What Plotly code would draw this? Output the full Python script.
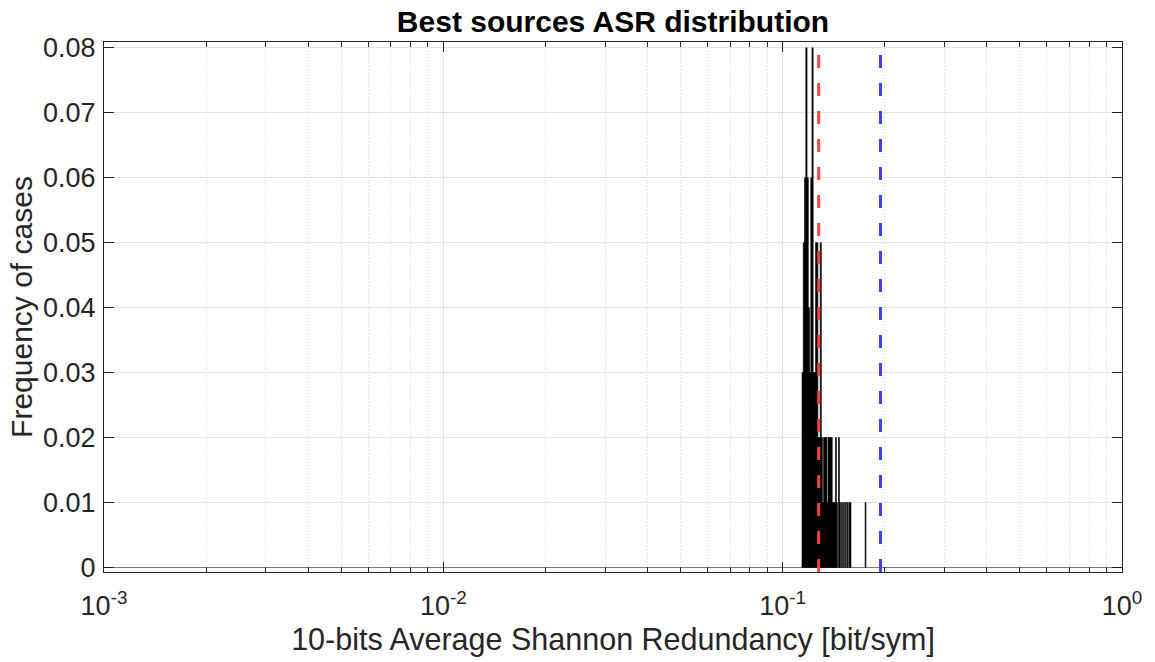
import plotly.graph_objects as go

# Histogram of the best-source ASR values (probability-normalised, bin width 0.001)
bin_left = [0.114, 0.115, 0.116, 0.117, 0.118, 0.119, 0.120, 0.121, 0.122, 0.123,
            0.124, 0.125, 0.126, 0.127, 0.128, 0.129, 0.130, 0.131, 0.132, 0.133,
            0.134, 0.135, 0.136, 0.137, 0.138, 0.139, 0.140, 0.141, 0.142, 0.143,
            0.144, 0.146, 0.147, 0.149, 0.151, 0.153, 0.155, 0.157, 0.158, 0.175]
freq = [0.03, 0.05, 0.06, 0.08, 0.06, 0.04, 0.03, 0.06, 0.08, 0.03,
        0.03, 0.05, 0.05, 0.02, 0.02, 0.05, 0.02, 0.01, 0.02, 0.02,
        0.02, 0.01, 0.02, 0.02, 0.02, 0.02, 0.01, 0.01, 0.01, 0.02,
        0.01, 0.02, 0.01, 0.01, 0.01, 0.01, 0.01, 0.01, 0.01, 0.01]
bin_width = 0.001

# Reference levels drawn as dashed vertical lines
asr_mean = 0.1277
asr_reference = 0.1942

y_ticks = [0, 0.01, 0.02, 0.03, 0.04, 0.05, 0.06, 0.07, 0.08]
y_tick_text = ["0", "0.01", "0.02", "0.03", "0.04", "0.05", "0.06", "0.07", "0.08"]
x_ticks = [0.001, 0.01, 0.1, 1]
x_tick_text = ["10<sup>-3</sup>", "10<sup>-2</sup>", "10<sup>-1</sup>", "10<sup>0</sup>"]

y_range = [-0.0007, 0.0809]
axis_col = "#262626"
font_family = "Liberation Sans, Arial, Helvetica, sans-serif"

# Build each bar as a closed rectangle so it sits correctly on the log axis
bx, by = [], []
for lo, h in zip(bin_left, freq):
    hi = lo + bin_width
    bx += [lo, lo, hi, hi, lo, None]
    by += [0, h, h, 0, 0, None]

fig = go.Figure()
fig.add_trace(go.Scatter(
    x=bx, y=by, mode="lines", fill="toself", fillcolor="black",
    line=dict(color="black", width=0.6), hoverinfo="skip", showlegend=False,
))

for xv, col in [(asr_mean, "#FF4040"), (asr_reference, "#4040FF")]:
    fig.add_trace(go.Scatter(
        x=[xv, xv], y=y_range, mode="lines",
        line=dict(color=col, width=3, dash="13px,15px"),
        hoverinfo="skip", showlegend=False,
    ))

fig.update_layout(
    width=1155, height=662,
    margin=dict(l=104, r=33, t=42, b=90),
    plot_bgcolor="white", paper_bgcolor="white",
    font=dict(family=font_family, color=axis_col),
    title=dict(
        text="<b>Best sources ASR distribution</b>",
        x=0.5, xref="paper", y=1 - 21 / 662, yref="container", yanchor="middle",
        font=dict(size=30, color="black", family=font_family),
    ),
    xaxis=dict(
        type="log", range=[-3, 0],
        tickvals=x_ticks, ticktext=x_tick_text,
        ticks="inside", ticklen=10, tickwidth=1, tickcolor=axis_col,
        showline=True, linecolor=axis_col, linewidth=1, mirror="allticks",
        showgrid=True, gridcolor="#e3e3e3", gridwidth=1, zeroline=False,
        minor=dict(ticks="inside", ticklen=5, tickwidth=1, tickcolor=axis_col,
                   dtick="D1", showgrid=True, gridcolor="#d9d9d9", griddash="1px,2px"),
        tickfont=dict(size=27, color=axis_col),
        ticklabelstandoff=10,
        title=dict(text="10-bits Average Shannon Redundancy [bit/sym]",
                   font=dict(size=30.5, color=axis_col), standoff=8),
    ),
    yaxis=dict(
        range=y_range,
        tickvals=y_ticks, ticktext=y_tick_text,
        ticks="inside", ticklen=10, tickwidth=1, tickcolor=axis_col,
        showline=True, linecolor=axis_col, linewidth=1, mirror="allticks",
        showgrid=True, gridcolor="#e3e3e3", gridwidth=1,
        zeroline=True, zerolinecolor="#7a7a7a", zerolinewidth=1,
        tickfont=dict(size=27, color=axis_col),
        ticklabelstandoff=2,
        title=dict(text="Frequency of cases",
                   font=dict(size=30, color=axis_col), standoff=1),
    ),
)

fig.write_html("out.html")
